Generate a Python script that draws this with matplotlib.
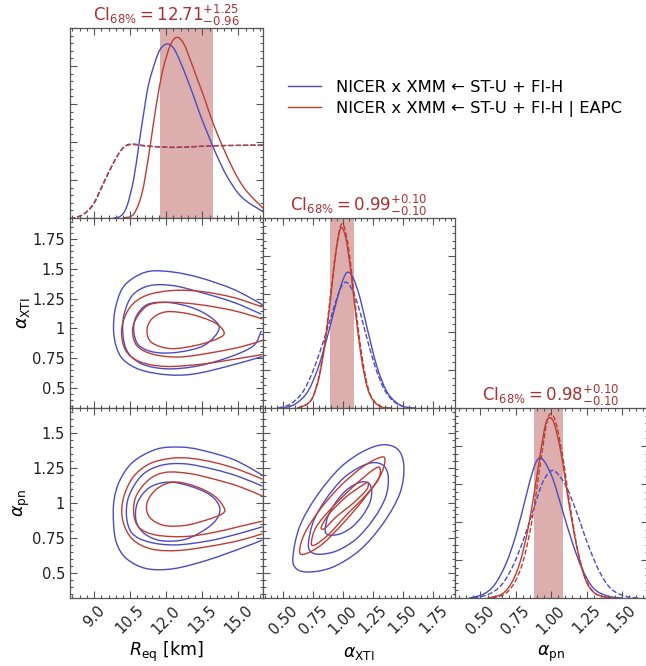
import numpy as np
import matplotlib
matplotlib.use("Agg")
import matplotlib.pyplot as plt
from matplotlib.path import Path
from matplotlib.patches import PathPatch
from matplotlib.lines import Line2D
from matplotlib.ticker import MultipleLocator, AutoMinorLocator, FuncFormatter

plt.rcParams["font.family"] = ["DejaVu Sans"]
plt.rcParams["mathtext.fontset"] = "dejavusans"

# ---------------- data ----------------
labels = [r"$R_{\rm eq}$ [km]", r"$\alpha_{\rm XTI}$", r"$\alpha_{\rm pn}$"]
ranges = [(8.0, 16.0), (0.33, 1.93), (0.32, 1.68)]
ci_median = [12.71, 0.99, 0.98]
ci_plus = [1.25, 0.10, 0.10]
ci_minus = [0.96, 0.10, 0.10]
legend_labels = ["NICER x XMM \u2190 ST-U + FI-H", "NICER x XMM \u2190 ST-U + FI-H | EAPC"]

# 1D marginals: (x, height as fraction of panel)
R_blue_x = [9.80, 10.10, 10.36, 10.64, 10.85, 11.06, 11.26, 11.54, 11.75, 12.03, 12.31, 12.58, 12.86,
            13.14, 13.42, 13.69, 13.97, 14.25, 14.53, 14.94, 15.36, 16.03]
R_blue_y = [0.0, 0.01, 0.06, 0.20, 0.375, 0.55, 0.70, 0.823, 0.888, 0.916, 0.893, 0.823, 0.735,
            0.64, 0.54, 0.454, 0.367, 0.288, 0.218, 0.138, 0.086, 0.033]
R_red_x = [10.20, 10.64, 10.99, 11.26, 11.47, 11.68, 11.89, 12.17, 12.44, 12.72, 13.00, 13.28, 13.56,
           13.83, 14.11, 14.53, 14.94, 15.36, 16.03]
R_red_y = [0.0, 0.02, 0.13, 0.32, 0.50, 0.665, 0.796, 0.91, 0.951, 0.919, 0.832, 0.735, 0.64,
           0.54, 0.446, 0.323, 0.218, 0.138, 0.051]
R_prior_blue_x = [8.0, 8.14, 8.56, 8.97, 9.39, 9.81, 10.15, 10.5, 11.19, 12.17, 13.14, 14.11, 16.03]
R_prior_blue_y = [0.0, 0.0, 0.02, 0.07, 0.18, 0.29, 0.362, 0.389, 0.38, 0.371, 0.375, 0.38, 0.384]
R_prior_red_x = [8.0, 8.16, 8.56, 8.97, 9.39, 9.81, 10.15, 10.5, 11.19, 12.17, 13.14, 14.11, 16.03]
R_prior_red_y = [0.0, 0.0, 0.02, 0.075, 0.185, 0.292, 0.36, 0.386, 0.378, 0.373, 0.376, 0.381, 0.384]

aX_red_x = [0.62, 0.70, 0.75, 0.80, 0.85, 0.90, 0.94, 0.98, 1.02, 1.06, 1.10, 1.15, 1.20, 1.25, 1.32, 1.40]
aX_red_y = [0.0, 0.02, 0.06, 0.16, 0.34, 0.60, 0.82, 0.946, 0.90, 0.74, 0.52, 0.27, 0.11, 0.04, 0.005, 0.0]
aX_redd_x = [0.62, 0.70, 0.75, 0.80, 0.85, 0.90, 0.95, 0.99, 1.03, 1.07, 1.11, 1.16, 1.21, 1.26, 1.33, 1.40]
aX_redd_y = [0.0, 0.02, 0.06, 0.17, 0.36, 0.62, 0.87, 0.97, 0.90, 0.72, 0.50, 0.26, 0.10, 0.035, 0.005, 0.0]
aX_blue_x = [0.50, 0.60, 0.70, 0.78, 0.85, 0.92, 0.98, 1.03, 1.08, 1.14, 1.20, 1.28, 1.36, 1.44, 1.52, 1.60]
aX_blue_y = [0.0, 0.02, 0.08, 0.19, 0.33, 0.50, 0.64, 0.712, 0.69, 0.58, 0.42, 0.22, 0.09, 0.03, 0.005, 0.0]
aX_blued_x = [0.46, 0.56, 0.66, 0.74, 0.82, 0.90, 0.96, 1.01, 1.06, 1.12, 1.18, 1.26, 1.34, 1.42, 1.50, 1.58]
aX_blued_y = [0.0, 0.02, 0.08, 0.18, 0.32, 0.48, 0.60, 0.66, 0.64, 0.55, 0.41, 0.23, 0.10, 0.035, 0.008, 0.0]

ap_red_x = [0.55, 0.65, 0.72, 0.78, 0.84, 0.90, 0.95, 0.98, 1.02, 1.07, 1.12, 1.18, 1.24, 1.30, 1.38, 1.46]
ap_red_y = [0.0, 0.02, 0.08, 0.19, 0.38, 0.65, 0.88, 0.946, 0.92, 0.76, 0.52, 0.27, 0.10, 0.03, 0.005, 0.0]
ap_redd_x = [0.58, 0.67, 0.74, 0.80, 0.86, 0.91, 0.96, 0.99, 1.03, 1.08, 1.13, 1.19, 1.25, 1.31, 1.39, 1.46]
ap_redd_y = [0.0, 0.02, 0.08, 0.19, 0.39, 0.64, 0.89, 0.968, 0.93, 0.75, 0.50, 0.24, 0.09, 0.025, 0.004, 0.0]
ap_blue_x = [0.42, 0.52, 0.60, 0.68, 0.75, 0.82, 0.87, 0.91, 0.95, 1.01, 1.08, 1.15, 1.22, 1.30, 1.40, 1.50]
ap_blue_y = [0.0, 0.02, 0.07, 0.18, 0.33, 0.53, 0.67, 0.735, 0.72, 0.63, 0.46, 0.29, 0.15, 0.05, 0.01, 0.0]
ap_blued_x = [0.45, 0.56, 0.65, 0.73, 0.81, 0.88, 0.94, 1.00, 1.05, 1.11, 1.18, 1.26, 1.34, 1.42, 1.52, 1.62]
ap_blued_y = [0.0, 0.02, 0.07, 0.17, 0.32, 0.48, 0.61, 0.67, 0.65, 0.58, 0.45, 0.28, 0.14, 0.05, 0.01, 0.0]

# 2D credible contours, (x, y) vertices; closed flag
# panel R_eq vs alpha_XTI
RX_blue = [
    ([16.0, 14.81, 13.42, 12.31, 11.33, 10.64, 10.15, 9.875, 9.81, 9.92, 10.22, 10.92, 12.03, 13.14, 14.53, 16.0],
     [1.20, 1.328, 1.426, 1.474, 1.482, 1.426, 1.328, 1.159, 0.99, 0.849, 0.736, 0.652, 0.61, 0.616, 0.68, 0.764], False),
    ([15.95, 14.8, 13.5, 12.3, 11.3, 10.6, 10.25, 10.2, 10.4, 11.0, 12.0, 13.2, 14.5, 15.6, 15.95],
     [1.12, 1.22, 1.30, 1.36, 1.36, 1.28, 1.12, 0.95, 0.80, 0.70, 0.66, 0.68, 0.75, 0.85, 0.98], False),
    ([14.2, 13.8, 13.0, 12.0, 11.2, 10.75, 10.65, 10.85, 11.5, 12.5, 13.6],
     [1.0, 1.1, 1.18, 1.22, 1.2, 1.1, 0.98, 0.86, 0.80, 0.80, 0.86], True),
]
RX_red = [
    ([16.0, 14.8, 13.5, 12.3, 11.2, 10.5, 10.15, 10.3, 10.9, 12.0, 13.5, 14.8, 16.0],
     [1.18, 1.26, 1.31, 1.32, 1.28, 1.18, 1.0, 0.82, 0.72, 0.68, 0.70, 0.74, 0.78], False),
    ([16.0, 14.8, 13.4, 12.2, 11.3, 10.8, 10.6, 10.8, 11.5, 12.6, 14.0, 15.2, 16.0],
     [1.08, 1.15, 1.20, 1.22, 1.20, 1.10, 0.98, 0.85, 0.78, 0.76, 0.80, 0.85, 0.90], False),
    ([14.4, 14.0, 13.0, 12.0, 11.4, 11.2, 11.4, 12.2, 13.3, 14.2],
     [0.97, 1.05, 1.12, 1.14, 1.08, 0.98, 0.88, 0.83, 0.86, 0.92], True),
]
# panel R_eq vs alpha_pn
RP_blue = [
    ([15.99, 14.81, 13.42, 12.58, 11.61, 10.64, 10.08, 9.83, 9.81, 9.94, 10.36, 11.19, 12.31, 13.69, 15.08, 15.99],
     [1.20, 1.31, 1.38, 1.40, 1.386, 1.297, 1.165, 1.02, 0.854, 0.71, 0.60, 0.53, 0.53, 0.59, 0.674, 0.734], False),
    ([16.0, 15.0, 14.0, 12.8, 11.8, 11.0, 10.45, 10.35, 10.6, 11.3, 12.4, 13.8, 15.0, 16.0],
     [1.12, 1.19, 1.24, 1.28, 1.27, 1.20, 1.05, 0.90, 0.78, 0.72, 0.70, 0.73, 0.78, 0.83], False),
    ([14.2, 13.8, 13.0, 12.1, 11.3, 10.8, 10.75, 11.1, 11.8, 12.8, 13.7, 14.15],
     [0.98, 1.06, 1.12, 1.15, 1.11, 1.0, 0.87, 0.78, 0.73, 0.74, 0.82, 0.90], True),
]
RP_red = [
    ([16.0, 15.0, 14.0, 13.0, 12.2, 11.3, 10.6, 10.2, 10.2, 10.6, 11.4, 12.5, 13.8, 15.0, 16.0],
     [1.17, 1.24, 1.29, 1.32, 1.32, 1.28, 1.18, 1.02, 0.87, 0.74, 0.67, 0.66, 0.69, 0.73, 0.78], False),
    ([16.0, 15.0, 14.0, 13.0, 12.0, 11.3, 10.75, 10.65, 10.9, 11.6, 12.8, 14.0, 15.0, 16.0],
     [1.05, 1.12, 1.17, 1.21, 1.22, 1.17, 1.05, 0.92, 0.82, 0.77, 0.76, 0.79, 0.83, 0.87], False),
    ([14.42, 14.0, 13.2, 12.3, 11.6, 11.2, 11.3, 11.9, 12.8, 13.7, 14.3],
     [0.96, 1.05, 1.12, 1.15, 1.10, 1.0, 0.9, 0.84, 0.84, 0.88, 0.92], True),
]
# panel alpha_XTI vs alpha_pn
XP_blue = [
    ([0.583, 0.638, 0.777, 0.972, 1.166, 1.333, 1.458, 1.505, 1.472, 1.333, 1.138, 0.916, 0.722, 0.611],
     [0.614, 0.83, 1.045, 1.25, 1.369, 1.417, 1.381, 1.261, 1.07, 0.854, 0.662, 0.542, 0.506, 0.53], True),
    ([0.712, 0.752, 0.852, 0.992, 1.132, 1.252, 1.342, 1.376, 1.352, 1.252, 1.112, 0.952, 0.812, 0.733],
     [0.711, 0.866, 1.021, 1.169, 1.254, 1.289, 1.263, 1.177, 1.039, 0.884, 0.745, 0.659, 0.633, 0.65], True),
    ([0.851, 0.874, 0.932, 1.014, 1.096, 1.166, 1.218, 1.238, 1.224, 1.166, 1.084, 0.991, 0.909, 0.862],
     [0.815, 0.905, 0.996, 1.082, 1.132, 1.152, 1.137, 1.086, 1.006, 0.915, 0.835, 0.784, 0.769, 0.779], True),
]
XP_red = [
    ([0.638, 0.68, 0.805, 0.972, 1.166, 1.319, 1.347, 1.305, 1.166, 0.999, 0.833, 0.694],
     [0.65, 0.782, 0.95, 1.117, 1.261, 1.329, 1.297, 1.19, 1.022, 0.854, 0.71, 0.638], True),
    ([0.736, 0.777, 0.916, 1.083, 1.249, 1.305, 1.291, 1.166, 1.027, 0.888, 0.777],
     [0.71, 0.83, 0.974, 1.117, 1.237, 1.25, 1.165, 1.034, 0.914, 0.782, 0.705], True),
    ([0.819, 0.888, 1.027, 1.166, 1.208, 1.194, 1.083, 0.944, 0.847],
     [0.83, 0.926, 1.045, 1.13, 1.146, 1.094, 0.998, 0.902, 0.818], True),
]

# ---------------- styling ----------------
BLUE = "#4b4bc6"
RED = "#c03c32"
CI_COLOR = "#a83232"
BAND = "#a52a2a"
W, H = 646, 666
col_x = [70, 262.5, 455]
col_w = [192.5, 192.5, 192.5]
row_y = [28, 218, 408]
row_h = 190


def smooth_path(x, y, closed=False):
    P = np.column_stack([x, y]).astype(float)
    n = len(P)
    if closed:
        pts = np.vstack([P[-1], P, P[0], P[1]])
        nseg = n
    else:
        pts = np.vstack([P[0], P, P[-1]])
        nseg = n - 1
    verts = [P[0]]
    codes = [Path.MOVETO]
    for i in range(nseg):
        p0, p1, p2, p3 = pts[i], pts[i + 1], pts[i + 2], pts[i + 3]
        c1 = p1 + (p2 - p0) / 6.0
        c2 = p2 - (p3 - p1) / 6.0
        verts += [c1, c2, p2]
        codes += [Path.CURVE4] * 3
    return Path(verts, codes)


def draw_curve(ax, x, y, color, ls="-", lw=1.0, closed=False):
    patch = PathPatch(smooth_path(x, y, closed), fill=False, edgecolor=color,
                      linestyle=ls, linewidth=lw)
    ax.add_patch(patch)


fig = plt.figure(figsize=(W / 100, H / 100), dpi=100)


def make_ax(r, c):
    ax = fig.add_axes([col_x[c] / W, 1 - (row_y[r] + row_h) / H, col_w[c] / W, row_h / H])
    for s in ax.spines.values():
        s.set_color("#555555")
        s.set_linewidth(0.9)
    ax.tick_params(which="both", direction="in", top=True, right=True, color="#555555",
                   labelsize=10.5, width=0.8, labelcolor="#222222")
    ax.tick_params(which="major", length=5)
    ax.tick_params(which="minor", length=2.5)
    return ax


major = [1.5, 0.25, 0.25]
xfmt = ["%.1f", "%.2f", "%.2f"]
xlabel_y = [-0.222, -0.24, -0.24]
axes = {}
for r in range(3):
    for c in range(r + 1):
        ax = make_ax(r, c)
        axes[(r, c)] = ax
        ax.set_xlim(*ranges[c])
        ax.xaxis.set_major_locator(MultipleLocator(major[c]))
        ax.xaxis.set_minor_locator(AutoMinorLocator(5))
        if r == c:
            ax.set_ylim(0, 1)
            ax.yaxis.set_major_locator(MultipleLocator(0.2))
            ax.yaxis.set_minor_locator(AutoMinorLocator(5))
            ax.tick_params(labelleft=False)
        else:
            ax.set_ylim(*ranges[r])
            ax.yaxis.set_major_locator(MultipleLocator(major[r]))
            ax.yaxis.set_minor_locator(AutoMinorLocator(5))
            if c == 0:
                ax.yaxis.set_major_formatter(FuncFormatter(lambda v, p: "%g" % round(v, 3)))
                ax.set_ylabel(labels[r], fontsize=12.5)
                ax.yaxis.set_label_coords(-0.20, 0.5)
            else:
                ax.tick_params(labelleft=False)
        if r == 2:
            f = xfmt[c]
            ax.xaxis.set_major_formatter(FuncFormatter(lambda v, p, f=f: f % v))
            ax.tick_params(axis="x", labelrotation=45)
            ax.set_xlabel(labels[c], fontsize=12.5)
            ax.xaxis.set_label_coords(0.5, xlabel_y[c])
        else:
            ax.tick_params(labelbottom=False)

# diagonal panels
diag_curves = [
    [(R_prior_blue_x, R_prior_blue_y, BLUE, "--"), (R_prior_red_x, R_prior_red_y, RED, "--"),
     (R_blue_x, R_blue_y, BLUE, "-"), (R_red_x, R_red_y, RED, "-")],
    [(aX_blued_x, aX_blued_y, BLUE, "--"), (aX_redd_x, aX_redd_y, RED, "--"),
     (aX_blue_x, aX_blue_y, BLUE, "-"), (aX_red_x, aX_red_y, RED, "-")],
    [(ap_blued_x, ap_blued_y, BLUE, "--"), (ap_redd_x, ap_redd_y, RED, "--"),
     (ap_blue_x, ap_blue_y, BLUE, "-"), (ap_red_x, ap_red_y, RED, "-")],
]
for i in range(3):
    ax = axes[(i, i)]
    ax.axvspan(ci_median[i] - ci_minus[i], ci_median[i] + ci_plus[i], color=BAND, alpha=0.38, lw=0)
    for x, y, col, ls in diag_curves[i]:
        draw_curve(ax, x, y, col, ls, 1.0)
    title = r"$\mathrm{CI}_{68\%%} = %.2f^{+%.2f}_{-%.2f}$" % (ci_median[i], ci_plus[i], ci_minus[i])
    ax.set_title(title, color=CI_COLOR, fontsize=12, pad=3)

for (r, c), (blues, reds) in {(1, 0): (RX_blue, RX_red), (2, 0): (RP_blue, RP_red),
                              (2, 1): (XP_blue, XP_red)}.items():
    ax = axes[(r, c)]
    for x, y, closed in blues:
        draw_curve(ax, x, y, BLUE, "-", 1.0, closed)
    for x, y, closed in reds:
        draw_curve(ax, x, y, RED, "-", 1.0, closed)

handles = [Line2D([], [], color=BLUE, lw=1.0), Line2D([], [], color=RED, lw=1.0)]
fig.legend(handles, legend_labels, loc="upper left", bbox_to_anchor=(288 / W, 1 - 80 / H),
           frameon=False, fontsize=11.8, handlelength=2.0, handletextpad=0.9,
           borderpad=0, borderaxespad=0, labelspacing=0.35)

fig.savefig("out.png", dpi=100)
